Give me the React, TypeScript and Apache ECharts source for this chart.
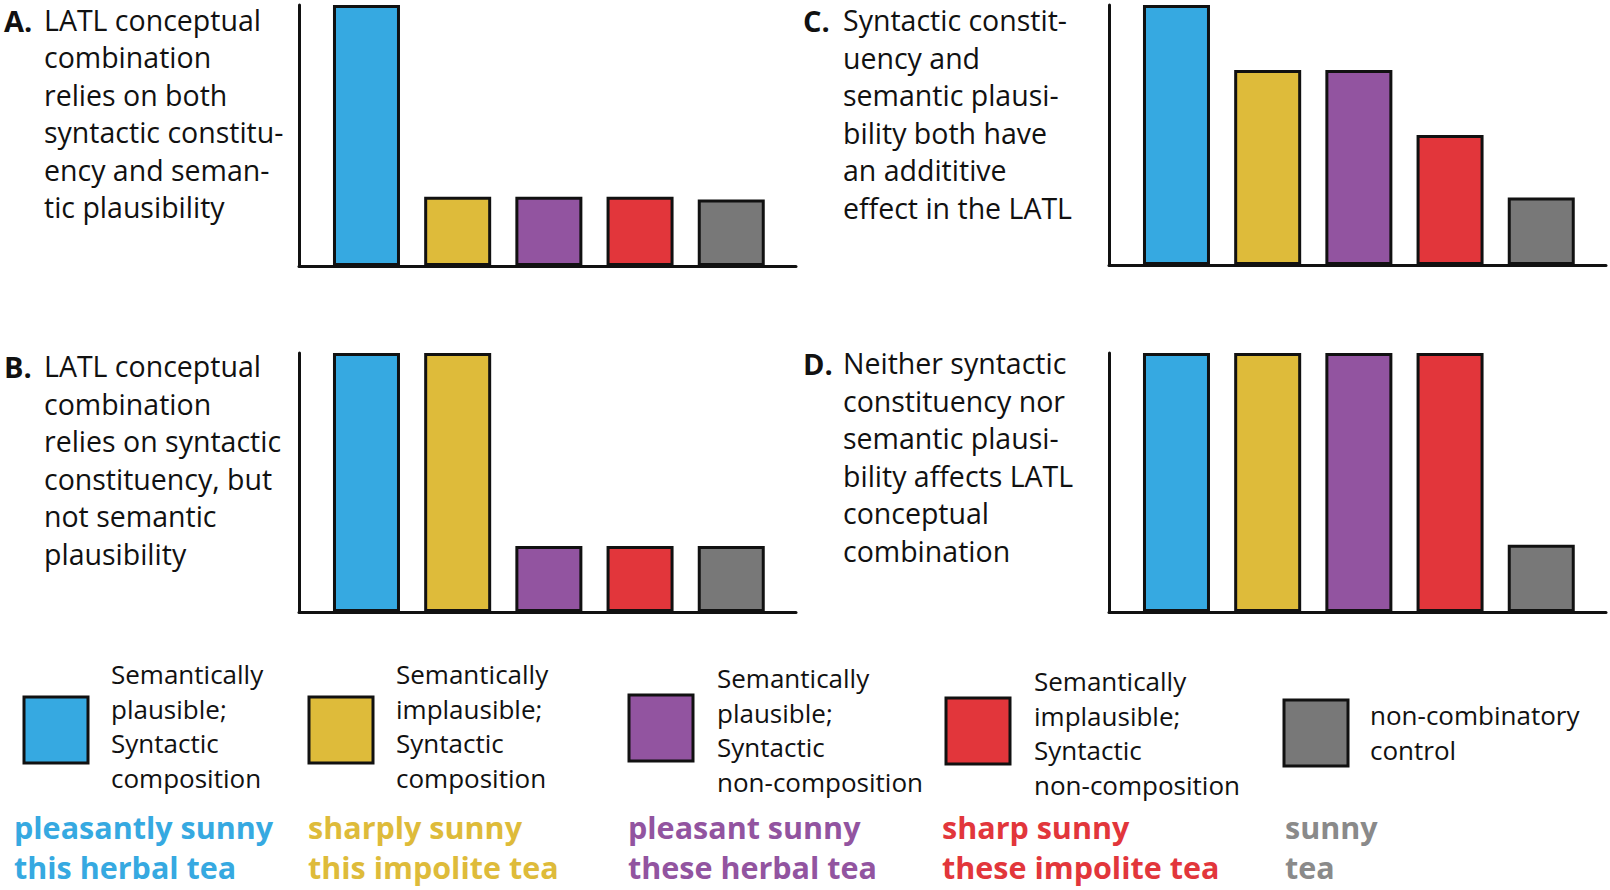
import React, { useEffect, useRef } from "react";
import * as echarts from "echarts";

// ---------- data ----------
const categories = [
  "Semantically plausible; Syntactic composition",
  "Semantically implausible; Syntactic composition",
  "Semantically plausible; Syntactic non-composition",
  "Semantically implausible; Syntactic non-composition",
  "non-combinatory control",
];
const barColors = ["#36A9E1", "#DEBB3A", "#9254A0", "#E2363B", "#787878"];
const phraseColors = ["#36A9E1", "#DEBB3A", "#9254A0", "#E2363B", "#8A8A8A"];

const panelAValues = [100, 26.5, 26.5, 26.5, 25.5];
const panelBValues = [100, 100, 25.5, 25.5, 25.5];
const panelCValues = [100, 75, 75, 50, 26];
const panelDValues = [100, 100, 100, 100, 26];

const panelLetters = ["A.", "B.", "C.", "D."];
const panelTexts = [
  ["LATL conceptual", "combination", "relies on both", "syntactic constitu-", "ency and seman-", "tic plausibility"],
  ["LATL conceptual", "combination", "relies on syntactic", "constituency, but", "not semantic", "plausibility"],
  ["Syntactic constit-", "uency and", "semantic plausi-", "bility both have", "an addititive", "effect in the LATL"],
  ["Neither syntactic", "constituency nor", "semantic plausi-", "bility affects LATL", "conceptual", "combination"],
];

const legendLabels = [
  ["Semantically", "plausible;", "Syntactic", "composition"],
  ["Semantically", "implausible;", "Syntactic", "composition"],
  ["Semantically", "plausible;", "Syntactic", "non-composition"],
  ["Semantically", "implausible;", "Syntactic", "non-composition"],
  ["non-combinatory", "control"],
];
const examplePhrases = [
  ["pleasantly sunny", "this herbal tea"],
  ["sharply sunny", "this impolite tea"],
  ["pleasant sunny", "these herbal tea"],
  ["sharp sunny", "these impolite tea"],
  ["sunny", "tea"],
];

// ---------- layout (styling, not data) ----------
const FONT = "'Open Sans', 'Noto Sans', sans-serif";
const panels = [
  { values: panelAValues, left: 299, top: 5, height: 261, textX: 4, textBodyX: 44, textCenter: 19.5 },
  { values: panelBValues, left: 299, top: 353, height: 259, textX: 4, textBodyX: 44, textCenter: 366 },
  { values: panelCValues, left: 1109, top: 5, height: 260, textX: 803, textBodyX: 843, textCenter: 20 },
  { values: panelDValues, left: 1109, top: 353, height: 259, textX: 803, textBodyX: 843, textCenter: 363 },
];
const PANEL_W = 497;
const PANEL_LH = 37.5;

const legendPos = [
  { sx: 24, sy: 697, tx: 111, ty: 674, px: 14 },
  { sx: 309, sy: 697, tx: 396, ty: 674, px: 308 },
  { sx: 629, sy: 695, tx: 717, ty: 678, px: 628 },
  { sx: 946, sy: 698, tx: 1034, ty: 681, px: 942 },
  { sx: 1284, sy: 700, tx: 1370, ty: 715, px: 1285 },
];
const LEG_LH = 34.7;

export default function App() {
  const ref = useRef<HTMLDivElement>(null);

  useEffect(() => {
    if (!ref.current) return;
    const chart = echarts.init(ref.current, undefined, { renderer: "svg" });

    const axisLine = { show: true, onZero: false, lineStyle: { color: "#111", width: 3 } };
    const grid = panels.map((p) => ({ left: p.left, top: p.top, width: PANEL_W, height: p.height }));
    const xAxis = panels.map((_, i) => ({
      type: "value",
      gridIndex: i,
      min: -0.74,
      max: 4.71,
      axisLine,
      axisTick: { show: false },
      axisLabel: { show: false },
      splitLine: { show: false },
    }));
    const yAxis = panels.map((_, i) => ({
      type: "value",
      gridIndex: i,
      min: 0,
      max: 100,
      axisLine,
      axisTick: { show: false },
      axisLabel: { show: false },
      splitLine: { show: false },
    }));
    const series = panels.map((p, i) => ({
      type: "bar",
      name: panelLetters[i],
      xAxisIndex: i,
      yAxisIndex: i,
      barWidth: 67,
      itemStyle: { borderColor: "#111", borderWidth: 3 },
      data: p.values.map((v, j) => ({
        name: categories[j],
        value: [j, v],
        itemStyle: { color: barColors[j] },
      })),
    }));

    const graphic: any[] = [];
    panels.forEach((p, i) => {
      graphic.push({
        type: "text",
        x: p.textX,
        y: Math.max(p.textCenter, 20.5) - 16,
        style: {
          text: panelLetters[i],
          font: `bold 29px ${FONT}`,
          lineHeight: 32,
          fill: "#111",
          verticalAlign: "top",
        },
      });
      graphic.push({
        type: "text",
        x: p.textBodyX,
        y: p.textCenter - PANEL_LH / 2,
        style: {
          text: panelTexts[i].join("\n"),
          font: `28.5px ${FONT}`,
          lineHeight: PANEL_LH,
          fill: "#111",
          verticalAlign: "top",
        },
      });
    });
    legendPos.forEach((l, i) => {
      graphic.push({
        type: "rect",
        shape: { x: l.sx, y: l.sy, width: 64, height: 66 },
        style: { fill: barColors[i], stroke: "#111", lineWidth: 3 },
      });
      graphic.push({
        type: "text",
        x: l.tx,
        y: l.ty - LEG_LH / 2,
        style: {
          text: legendLabels[i].join("\n"),
          font: `26px ${FONT}`,
          lineHeight: LEG_LH,
          fill: "#111",
          verticalAlign: "top",
        },
      });
      graphic.push({
        type: "text",
        x: l.px,
        y: 826.5 - 20,
        style: {
          text: examplePhrases[i].join("\n"),
          font: `bold 30.5px ${FONT}`,
          lineHeight: 40,
          fill: phraseColors[i],
          verticalAlign: "top",
        },
      });
    });

    chart.setOption({
      animation: false,
      backgroundColor: "#fff",
      grid,
      xAxis,
      yAxis,
      series,
      graphic,
    } as any);

    return () => chart.dispose();
  }, []);

  return (
    <div
      ref={ref}
      style={{ position: "absolute", left: 0, top: 0, width: 1610, height: 890 }}
    />
  );
}
